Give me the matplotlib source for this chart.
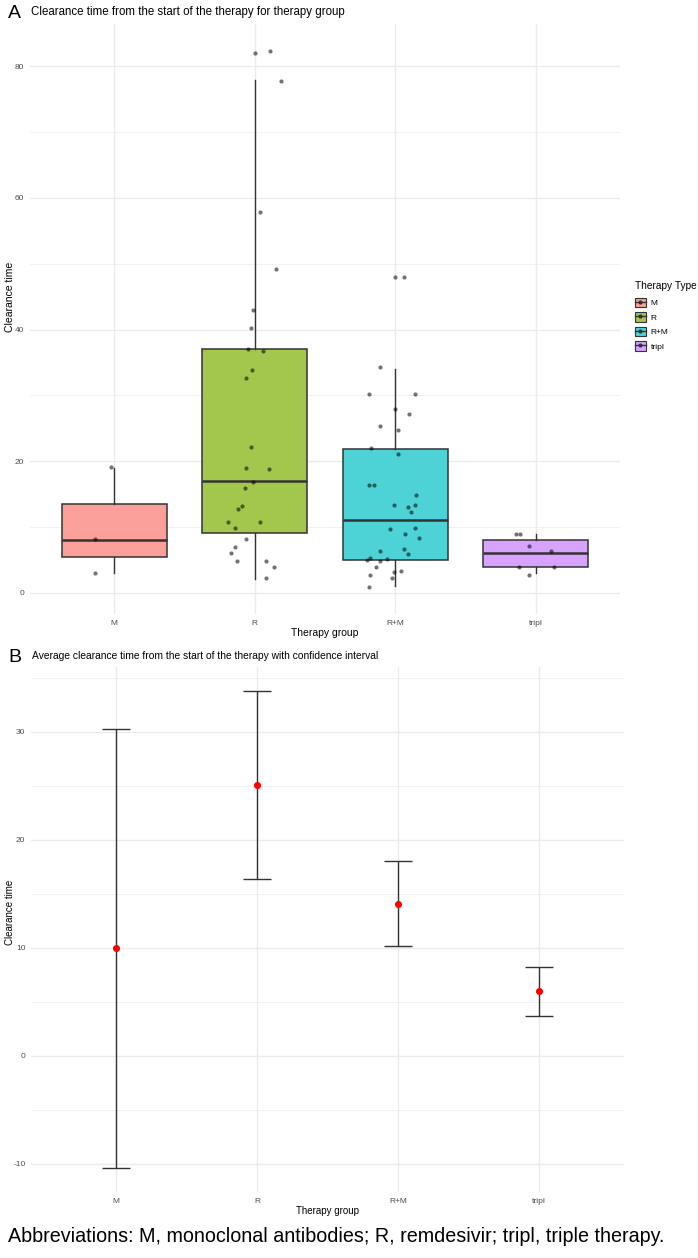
import matplotlib
matplotlib.use("Agg")
import matplotlib.pyplot as plt
from matplotlib.patches import Patch
from matplotlib.lines import Line2D
from matplotlib.ticker import MultipleLocator

plt.rcParams['font.family'] = ['Liberation Sans', 'DejaVu Sans']
plt.rcParams['axes.unicode_minus'] = False

groups = ["M", "R", "R+M", "tripl"]
fills = ["#FA9F99", "#A3C64D", "#4DD2D6", "#D8A3FF"]

# box statistics
box_q1 = [5.5, 9.1, 5.0, 4.0]
box_med = [8.0, 17.0, 11.0, 6.0]
box_q3 = [13.5, 37.0, 21.8, 8.0]
whisk_lo = [3.1, 2.1, 1.0, 3.1]
whisk_hi = [19.0, 77.9, 34.0, 9.0]

# individual clearance times (jittered points)
m_vals = [19.1, 8.2, 3.1]
r_vals = [82.0, 82.3, 77.7, 57.8, 49.2, 43.0, 40.2, 37.1, 36.8, 33.9, 32.6,
          22.2, 18.9, 18.8, 16.9, 15.9, 13.2, 12.7, 10.8, 10.8, 9.9, 8.2,
          6.9, 6.0, 4.8, 4.8, 3.9, 2.3]
rm_vals = [48.0, 48.0, 34.3, 30.2, 30.2, 27.9, 27.2, 25.3, 24.8, 22.0, 21.1,
           16.4, 16.4, 14.9, 13.4, 13.3, 13.0, 12.3, 9.9, 9.7, 9.0, 8.4,
           6.6, 6.4, 5.9, 5.3, 5.2, 5.0, 4.8, 3.9, 3.3, 3.2, 2.7, 2.3, 0.9]
tripl_vals = [8.9, 8.9, 7.2, 6.4, 3.9, 3.9, 2.7]

# horizontal jitter of each point
m_jit = [-0.02, -0.14, -0.14]
r_jit = [0.0, 0.11, 0.19, 0.04, 0.15, -0.01, -0.03, -0.05, 0.06, -0.02, -0.06,
         -0.03, -0.06, 0.10, -0.01, -0.07, -0.09, -0.12, -0.19, 0.04, -0.14,
         -0.06, -0.14, -0.17, -0.13, 0.08, 0.14, 0.08]
rm_jit = [0.0, 0.06, -0.11, -0.19, 0.14, 0.0, 0.10, -0.11, 0.02, -0.17, 0.02,
          -0.19, -0.15, 0.15, -0.01, 0.14, 0.09, 0.11, 0.14, -0.04, 0.07, 0.17,
          0.06, -0.11, 0.09, -0.18, -0.06, -0.20, -0.11, -0.14, 0.04, -0.01,
          -0.18, -0.02, -0.19]
tripl_jit = [-0.14, -0.11, -0.05, 0.11, -0.12, 0.13, -0.05]

# panel B: mean and confidence interval
ci_mean = [10.0, 25.1, 14.1, 6.0]
ci_low = [-10.4, 16.4, 10.2, 3.7]
ci_high = [30.3, 33.8, 18.0, 8.2]

caption = "Abbreviations: M, monoclonal antibodies; R, remdesivir; tripl, triple therapy."

GRID = "#EBEBEB"
TICK = "#4D4D4D"
W, H = 698, 1258


def minimal(ax):
    for s in ax.spines.values():
        s.set_visible(False)
    ax.grid(True, which='major', color=GRID, lw=1.0)
    ax.grid(True, which='minor', axis='y', color=GRID, lw=0.5)
    ax.set_axisbelow(True)
    ax.tick_params(which='both', length=0, labelsize=6, labelcolor=TICK, pad=4)
    ax.set_xticks(range(1, len(groups) + 1))
    ax.set_xticklabels(groups)
    ax.set_xlim(0.4, 4.6)


fig = plt.figure(figsize=(W / 100, H / 100), dpi=100)

# ---------- panel A ----------
axA = fig.add_axes([30 / W, 1 - 614 / H, 590 / W, 590 / H])
stats = []
for i, g in enumerate(groups):
    stats.append(dict(label=g, q1=box_q1[i], med=box_med[i], q3=box_q3[i],
                      whislo=whisk_lo[i], whishi=whisk_hi[i], fliers=[]))
bp = axA.bxp(stats, positions=range(1, 5), widths=0.75, patch_artist=True,
             showcaps=False, showfliers=False, manage_ticks=False,
             boxprops=dict(edgecolor="#333333", lw=1.1),
             whiskerprops=dict(color="#333333", lw=1.0),
             medianprops=dict(color="#333333", lw=1.8))
for patch, c in zip(bp['boxes'], fills):
    patch.set_facecolor(c)
for i, (vals, jit) in enumerate([(m_vals, m_jit), (r_vals, r_jit),
                                  (rm_vals, rm_jit), (tripl_vals, tripl_jit)]):
    axA.scatter([i + 1 + j for j in jit], vals, s=9, color="black",
                alpha=0.55, lw=0, zorder=5)
minimal(axA)
axA.set_ylim(-3.2, 86.4)
axA.yaxis.set_major_locator(MultipleLocator(20))
axA.yaxis.set_minor_locator(MultipleLocator(10))
axA.set_xlabel("Therapy group", fontsize=7.5, labelpad=1)
fig.text(10 / W, 1 - 297 / H, "Clearance time", fontsize=7.5, rotation=90,
         va='center', ha='center')
fig.text(31 / W, 1 - 12 / H, "Clearance time from the start of the therapy for therapy group",
         fontsize=8.3, va='center', ha='left')
fig.text(8 / W, 1 - 13 / H, "A", fontsize=14, va='center', ha='left')

handles = [(Patch(facecolor=c, edgecolor="#333333", lw=0.8),
            Line2D([0], [0], color="#333333", lw=1.0, marker='o', markersize=2))
           for c in fills]
leg = axA.legend(handles, groups, title="Therapy Type", loc='upper left',
                 bbox_to_anchor=((635 - 30) / 590, (614 - 281) / 590),
                 frameon=False, fontsize=6, title_fontsize=7.3,
                 handlelength=1.3, handleheight=1.3, handletextpad=0.6,
                 labelspacing=0.62, borderaxespad=0, borderpad=0)
leg._legend_box.align = "left"
leg._legend_box.sep = 5

# ---------- panel B ----------
axB = fig.add_axes([31 / W, 1 - 1192 / H, 593 / W, 525 / H])
x = range(1, 5)
axB.errorbar(x, ci_mean, yerr=[[m - l for m, l in zip(ci_mean, ci_low)],
                                [h - m for m, h in zip(ci_mean, ci_high)]],
             fmt='none', ecolor="#333333", elinewidth=1.0, capsize=10,
             capthick=1.0)
axB.scatter(x, ci_mean, s=26, color="red", zorder=5, lw=0)
minimal(axB)
axB.set_ylim(-12.6, 36.0)
axB.yaxis.set_major_locator(MultipleLocator(10))
axB.yaxis.set_minor_locator(MultipleLocator(5))
axB.set_xlabel("Therapy group", fontsize=7, labelpad=1)
fig.text(10 / W, 1 - 912 / H, "Clearance time", fontsize=7, rotation=90,
         va='center', ha='center')
fig.text(32 / W, 1 - 656 / H,
         "Average clearance time from the start of the therapy with confidence interval",
         fontsize=7.4, va='center', ha='left')
fig.text(8 / W, 1 - 657 / H, "B", fontsize=14, va='center', ha='left')

fig.text(8 / W, 1 - 1236 / H, caption, fontsize=14.2, va='center', ha='left')

fig.savefig("out.png", dpi=100, facecolor="white")
